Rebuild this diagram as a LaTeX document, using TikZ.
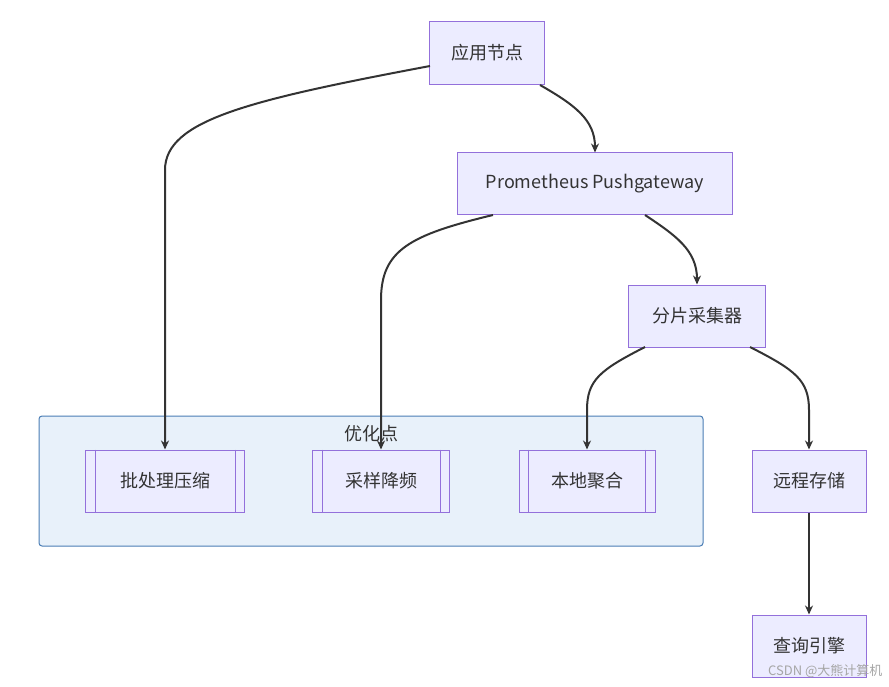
\documentclass[tikz,border=0pt]{standalone}
\usepackage{fontspec}
\setmainfont{Noto Sans CJK SC}
\usetikzlibrary{arrows.meta}
\definecolor{nfill}{HTML}{ECECFF}
\definecolor{nstroke}{HTML}{9370DB}
\definecolor{cfill}{HTML}{E8F1FA}
\definecolor{cstroke}{HTML}{4A7DB5}
\definecolor{edge}{HTML}{333333}
\begin{document}
\begin{tikzpicture}[x=1pt,y=-1pt,
  box/.style={draw=nstroke,fill=nfill,line width=1pt,font=\fontsize{18}{20}\selectfont,text=edge,inner sep=0pt},
  arr/.style={draw=edge,line width=2pt,-{Stealth[length=9pt,width=8pt]}}]
\useasboundingbox (0,0) rectangle (889,687);
\fill[white] (0,0) rectangle (889,687);
\draw[fill=cfill,draw=cstroke,line width=1pt,rounded corners=3pt] (39,416) rectangle (703,546);
\node[font=\fontsize{18}{20}\selectfont,text=edge] (cl) at (371,434) {优化点};
\node[box,minimum width=115,minimum height=63] (app) at (487,53) {应用节点};
\node[box,minimum width=275,minimum height=62] (pg) at (595,184) {Prometheus Pushgateway};
\node[box,minimum width=137,minimum height=62] (sh) at (697,316) {分片采集器};
\node[box,minimum width=159,minimum height=62] (b1) at (165,481) {批处理压缩};
\node[box,minimum width=137,minimum height=62] (b2) at (381,481) {采样降频};
\node[box,minimum width=136,minimum height=62] (b3) at (587,481) {本地聚合};
\foreach \n in {b1,b2,b3}{
  \draw[nstroke,line width=1pt] ([xshift=10pt]\n.north west) -- ([xshift=10pt]\n.south west);
  \draw[nstroke,line width=1pt] ([xshift=-10pt]\n.north east) -- ([xshift=-10pt]\n.south east);}
\node[box,minimum width=114,minimum height=62] (rs) at (809,481) {远程存储};
\node[box,minimum width=114,minimum height=62] (q) at (809,646) {查询引擎};
\node[text=gray!70,font=\fontsize{13}{14}\selectfont,anchor=east] (wm) at (886,671) {CSDN @大熊计算机};
\coordinate (a1) at (430,66);
\draw[arr] (a1) .. controls (250,100) and (165,120) .. (165,170) -- (b1.north);
\draw[arr] (540,85) .. controls (575,105) and (595,120) .. (pg.north);
\draw[arr] (493,215) .. controls (410,235) and (381,250) .. (381,300) -- (b2.north);
\draw[arr] (645,215) .. controls (675,235) and (697,250) .. (sh.north);
\draw[arr] (645,347) .. controls (600,370) and (587,380) .. (587,410) -- (b3.north);
\draw[arr] (750,347) .. controls (795,370) and (809,380) .. (809,410) -- (rs.north);
\draw[arr] (rs) -- (q);
\end{tikzpicture}
\end{document}
